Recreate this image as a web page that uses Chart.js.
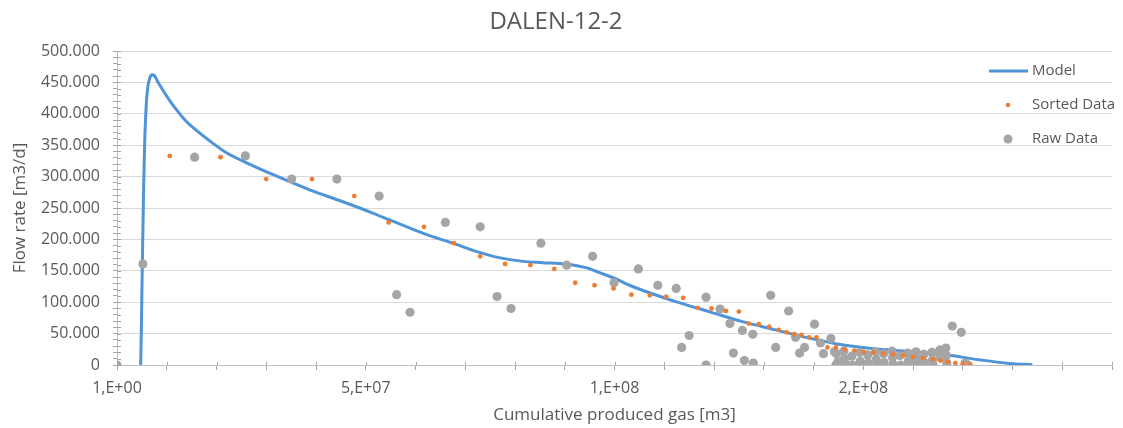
<!DOCTYPE html>
<html>
<head>
<meta charset="utf-8">
<title>DALEN-12-2</title>
<script src="https://cdn.jsdelivr.net/npm/chart.js@4.4.1/dist/chart.umd.min.js"></script>
<style>
  html, body { margin: 0; padding: 0; background: #fff; }
  #wrap { position: relative; width: 1123px; height: 428px; }
</style>
</head>
<body>
<div id="wrap"><canvas id="decline"></canvas></div>
<script>
// cumulative produced gas [m3] / flow rate [m3/d]
const modelGas = [4.76e6, 4.9e6, 5.05e6, 5.22e6, 5.4e6, 5.56e6, 5.9e6, 6.2e6, 6.6e6, 7.0e6, 7.5e6, 8.2e6,
  9.2e6, 10.6e6, 11.9e6, 13.9e6, 15.3e6, 18.6e6, 22e6, 26.6e6, 32e6, 38.7e6, 45.4e6, 51.4e6, 55.4e6,
  62.1e6, 67.5e6, 72.2e6, 76.8e6, 81.6e6, 85.5e6, 90.2e6, 94.3e6, 97e6, 100.3e6, 103e6, 107e6, 112.3e6,
  119e6, 125.7e6, 132.4e6, 139.1e6, 145.1e6, 149.8e6, 156.5e6, 165.9e6, 173.2e6, 179.3e6, 184e6]
const modelRate = [0, 60000, 140000, 220000, 300000, 353000, 417000, 443000, 457000, 462000, 461000, 451000,
  438000, 421000, 407000, 388000, 378000, 357000, 338000, 320000, 301000, 279000, 260000, 242000, 229000,
  208000, 194000, 181000, 171000, 165000, 163000, 161000, 155000, 147000, 137000, 127000, 115000, 101000,
  85000, 69000, 56000, 43000, 33000, 28000, 23000, 17000, 8500, 2500, 500]

const sortedGas = [10.6e6, 20.8e6, 30e6, 39.2e6, 47.7e6, 54.6e6, 61.7e6, 67.7e6, 73e6, 78e6, 83.1e6, 87.9e6,
  92.1e6, 96e6, 99.8e6, 103.4e6, 107.1e6, 110.4e6, 113.8e6, 116.7e6, 119.5e6, 122.4e6, 125e6, 127e6, 129e6,
  131.1e6, 133e6, 134.6e6, 136.1e6, 137.6e6, 139.1e6, 140.6e6, 142.8e6, 144.5e6, 146.3e6, 148.2e6, 150.1e6,
  152e6, 154e6, 156e6, 158e6, 160e6, 162e6, 164e6, 165.5e6, 167e6, 168.5e6, 170e6, 171.5e6]
const sortedRate = [333000, 331000, 296000, 296000, 269000, 227000, 220000, 194000, 173000, 161000, 159000, 153000,
  131000, 127000, 122000, 112000, 111000, 109000, 107000, 91000, 90000, 86000, 85000, 66000, 65000,
  61000, 56000, 52000, 49000, 48000, 44000, 44000, 28000, 28000, 25000, 23000, 21000,
  20000, 18000, 17000, 15000, 13000, 11000, 9000, 7000, 5000, 3000, 2000, 1000]

const rawGas = [0, 5.2e6, 15.6e6, 25.8e6, 35.1e6, 44.2e6, 52.7e6, 56.2e6, 58.9e6, 66e6, 73e6, 76.4e6, 79.2e6,
  85.2e6, 90.4e6, 95.6e6, 99.9e6, 104.8e6, 108.7e6, 112.4e6, 113.5e6, 115e6, 118.4e6, 118.4e6, 121.2e6,
  123.2e6, 123.9e6, 125.7e6, 126.1e6, 127.8e6, 127.9e6, 131.4e6, 132.4e6, 135e6, 136.4e6, 137.2e6, 138.2e6,
  140.2e6, 141.4e6, 142e6, 143.5e6, 144.2e6, 144.5e6,
  144.6e6, 144.9e6, 146.1e6, 146.2e6, 146.4e6, 147.7e6, 147.8e6, 149.3e6, 149.4e6, 149.5e6, 150.9e6, 151e6,
  152.5e6, 152.6e6, 152.7e6, 154.1e6, 154.2e6, 155.8e6, 155.9e6, 156e6, 157.4e6, 157.5e6, 159e6, 159.1e6,
  159.2e6, 160.6e6, 160.7e6, 160.8e6, 162.2e6, 162.3e6, 163.8e6, 163.9e6, 164e6, 165.2e6, 165.4e6, 165.5e6,
  166.6e6, 166.7e6, 166.8e6, 167.9e6, 169.7e6, 170.5e6, 171e6]
const rawRate = [0, 161000, 331000, 333000, 296000, 296000, 269000, 112000, 84000, 227000, 220000, 109000, 90000,
  194000, 159000, 173000, 131000, 153000, 127000, 122000, 28000, 47000, 108000, 0, 89000,
  66000, 19000, 55000, 7000, 49000, 3000, 111000, 28000, 86000, 44000, 19000, 28000,
  65000, 35000, 18000, 42000, 21000, 0,
  18000, 5000, 22000, 10000, 2000, 14000, 0, 20000, 6000, 1000, 16000, 3000,
  21000, 9000, 0, 18000, 4000, 22000, 12000, 1000, 15000, 0, 19000, 7000,
  2000, 21000, 10000, 0, 17000, 4000, 20000, 8000, 1000, 19000, 24000, 12000,
  27000, 15000, 3000, 62000, 52000, 3000, 0]

// x ticks every 1e7, labels only on the major ones
const xLabelValues = [0, 5e7, 1e8, 1.5e8]
const xLabelTexts = ['1,E+00', '5,E+07', '1,E+08', '2,E+08']

const toPoints = (xs, ys) => xs.map((x, i) => ({ x: x, y: ys[i] }))

const colors = {
  model: '#4F93D8',
  sorted: '#ED7D31',
  raw: '#A5A5A5',
  text: '#595959',
  grid: '#D9D9D9',
  axis: '#BFBFBF',
  tick: '#A6A6A6',
}
const fontFamily = '"Open Sans", "Liberation Sans", sans-serif'

// legend sits inside the plot, on top of the gridlines
const insideLegend = {
  id: 'insideLegend',
  afterDraw(chart) {
    const ctx = chart.ctx
    const rows = [71, 105, 139]
    ctx.save()
    ctx.font = '15px ' + fontFamily
    ctx.fillStyle = colors.text
    ctx.textBaseline = 'middle'

    ctx.strokeStyle = colors.model
    ctx.lineWidth = 3
    ctx.beginPath()
    ctx.moveTo(989, rows[0])
    ctx.lineTo(1028, rows[0])
    ctx.stroke()
    ctx.fillText('Model', 1032, rows[0])

    ctx.fillStyle = colors.sorted
    ctx.beginPath()
    ctx.arc(1008, rows[1], 2.3, 0, Math.PI * 2)
    ctx.fill()
    ctx.fillStyle = colors.text
    ctx.fillText('Sorted Data', 1032, rows[1])

    ctx.fillStyle = colors.raw
    ctx.beginPath()
    ctx.arc(1008, rows[2], 4.5, 0, Math.PI * 2)
    ctx.fill()
    ctx.fillStyle = colors.text
    ctx.fillText('Raw Data', 1032, rows[2])
    ctx.restore()
  },
}

// the tick marks cross the axis line, so draw the inner half too
const crossTicks = {
  id: 'crossTicks',
  beforeDatasetsDraw(chart) {
    const { ctx, scales } = chart
    const x = scales.x
    const y = scales.y
    ctx.save()
    ctx.strokeStyle = colors.tick
    ctx.lineWidth = 1
    ctx.beginPath()
    y.ticks.forEach((t) => {
      const py = Math.round(y.getPixelForValue(t.value)) + 0.5
      ctx.moveTo(y.right, py)
      ctx.lineTo(y.right + 4, py)
    })
    x.ticks.forEach((t) => {
      const px = Math.round(x.getPixelForValue(t.value)) + 0.5
      ctx.moveTo(px, x.top)
      ctx.lineTo(px, x.top - 3)
    })
    ctx.stroke()
    ctx.restore()
  },
}

const ctx = document.getElementById('decline').getContext('2d')
const chart = new Chart(ctx, {
  type: 'scatter',
  data: {
    datasets: [
      {
        label: 'Sorted Data',
        data: toPoints(sortedGas, sortedRate),
        backgroundColor: colors.sorted,
        borderWidth: 0,
        pointRadius: 2.4,
        order: 1,
      },
      {
        label: 'Raw Data',
        data: toPoints(rawGas, rawRate),
        backgroundColor: colors.raw,
        borderWidth: 0,
        pointRadius: 4.6,
        order: 2,
      },
      {
        label: 'Model',
        type: 'line',
        data: toPoints(modelGas, modelRate),
        borderColor: colors.model,
        borderWidth: 3,
        pointRadius: 0,
        cubicInterpolationMode: 'monotone',
        fill: false,
        order: 3,
      },
    ],
  },
  options: {
    responsive: true,
    maintainAspectRatio: false,
    animation: false,
    layout: { padding: { left: 0, right: 11, top: 0, bottom: 0 } },
    plugins: {
      legend: { display: false },
      tooltip: { enabled: false },
      title: {
        display: true,
        text: 'DALEN-12-2',
        color: colors.text,
        font: { family: fontFamily, size: 24, weight: 'normal' },
        padding: { top: 8, bottom: 14.2 },
      },
    },
    scales: {
      x: {
        type: 'linear',
        min: 0,
        max: 2e8,
        afterFit: (scale) => { scale.height = 63 },
        afterBuildTicks: (scale) => {
          const ticks = []
          for (let v = 0; v <= 2e8; v += 1e7) ticks.push({ value: v })
          scale.ticks = ticks
        },
        ticks: {
          autoSkip: false,
          maxRotation: 0,
          padding: 9,
          color: colors.text,
          font: { family: fontFamily, size: 16 },
          callback: (value) => {
            const i = xLabelValues.indexOf(value)
            return i >= 0 ? xLabelTexts[i] : ''
          },
        },
        grid: {
          drawOnChartArea: false,
          drawTicks: true,
          tickLength: 5,
          tickColor: colors.tick,
        },
        border: { display: true, color: colors.axis },
        title: {
          display: true,
          text: 'Cumulative produced gas [m3]',
          color: colors.text,
          font: { family: fontFamily, size: 17 },
          padding: { top: 0, bottom: 3 },
        },
      },
      y: {
        type: 'linear',
        min: 0,
        max: 500000,
        afterFit: (scale) => { scale.width = 117 },
        ticks: {
          stepSize: 10000,
          autoSkip: false,
          padding: 13,
          color: colors.text,
          font: { family: fontFamily, size: 16 },
          callback: (value) => {
            if (value % 50000 !== 0) return ''
            return value === 0 ? '0' : value / 1000 + '.000'
          },
        },
        grid: {
          color: (c) => (c.tick && c.tick.value % 50000 === 0 ? colors.grid : 'rgba(0,0,0,0)'),
          tickColor: colors.tick,
          tickLength: 4,
          lineWidth: 1,
        },
        border: { display: true, color: colors.axis },
        title: {
          display: true,
          text: 'Flow rate [m3/d]',
          color: colors.text,
          font: { family: fontFamily, size: 17 },
          padding: { top: 10, bottom: 0 },
        },
      },
    },
  },
  plugins: [insideLegend, crossTicks],
})
</script>
</body>
</html>
